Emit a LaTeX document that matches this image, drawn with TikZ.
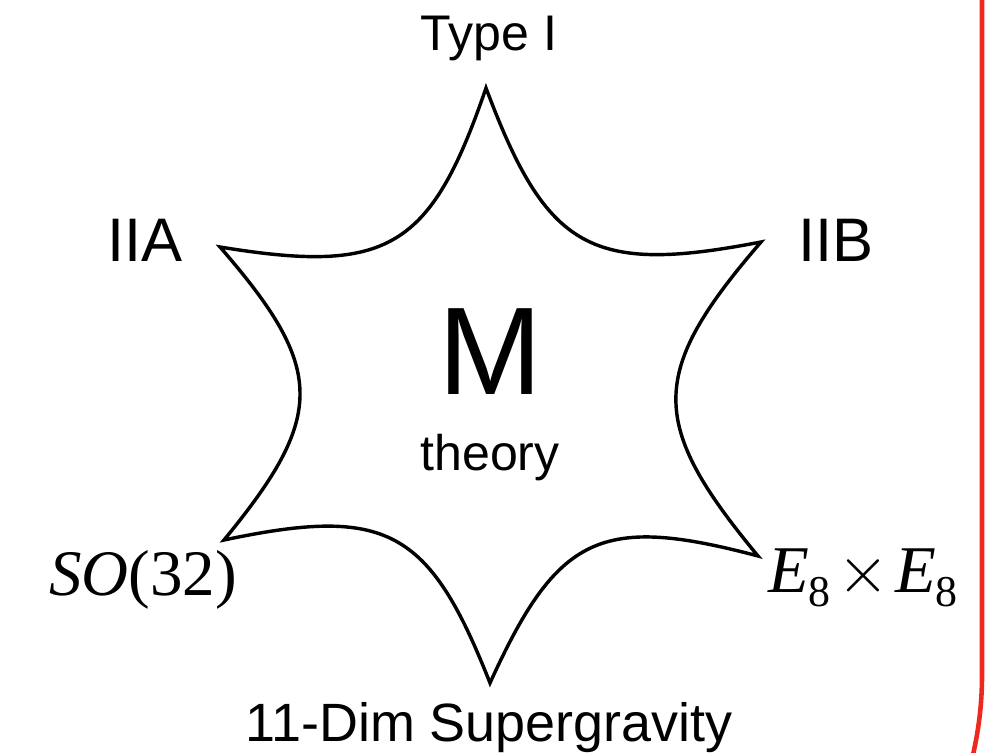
\documentclass[tikz,border=0pt]{standalone}
\usepackage{fix-cm}
\usepackage{fontspec}
\setmainfont{Liberation Sans}
\newfontfamily\tms{Liberation Serif}
\definecolor{redline}{RGB}{238,40,28}
\begin{document}
\begin{tikzpicture}[x=0.02cm,y=-0.02cm,
  starline/.style={line width=1.95pt},
  lbl/.style={inner sep=0pt, anchor=base},
  framered/.style={draw=redline, line width=2.6pt}]
\useasboundingbox (0,0) rectangle (1005,753);
% star tips
\coordinate (T)  at (486,88);
\coordinate (UR) at (761,242);
\coordinate (LR) at (758,556);
\coordinate (B)  at (490,683);
\coordinate (LL) at (224,540);
\coordinate (UL) at (220,247);
\draw[starline] (UL)
  .. controls (388.1,274.6) and (430.7,249.2) .. (T)
  .. controls (546.8,250.3) and (590.8,274.9) .. (UR)
  .. controls (648.2,372.8) and (647.8,423.0) .. (LR)
  .. controls (600.3,514.2) and (557.5,534.6) .. (B)
  .. controls (429.1,528.5) and (386.5,505.7) .. (LL)
  .. controls (326.3,415.5) and (325.7,368.7) .. (UL) -- cycle;
% red frame edge
\coordinate (R1) at (982,-10);
\coordinate (R2) at (982,676);
\coordinate (R3) at (971.3,762);
\draw[framered] (R1) -- (R2) .. controls (982,705) and (978.4,733) .. (R3);
% labels
\node[lbl] (typeI) at (489,51) {\fontsize{28.5pt}{32pt}\selectfont Type I};
\node[lbl] (iia) at (145,262) {\fontsize{35pt}{38pt}\selectfont IIA};
\node[lbl] (iib) at (836,262) {\fontsize{35pt}{38pt}\selectfont IIB};
\node[lbl] (m) at (490,395) {\fontsize{71pt}{75pt}\selectfont M};
\node[lbl] (theory) at (490,471) {\fontsize{28.5pt}{32pt}\selectfont theory};
\node[lbl] (so) at (143,595) {\fontsize{37pt}{40pt}\selectfont\tms\textit{SO}(32)};
\node[lbl] (e8) at (863,592) {\fontsize{38pt}{40pt}\selectfont\tms\textit{E}\raisebox{-8.5pt}{\fontsize{25pt}{27pt}\selectfont 8}\kern4pt$\times$\kern3pt\textit{E}\raisebox{-8.5pt}{\fontsize{25pt}{27pt}\selectfont 8}};
\node[lbl] (sugra) at (489,741) {\fontsize{30.7pt}{34pt}\selectfont 11-Dim Supergravity};
\end{tikzpicture}
\end{document}
